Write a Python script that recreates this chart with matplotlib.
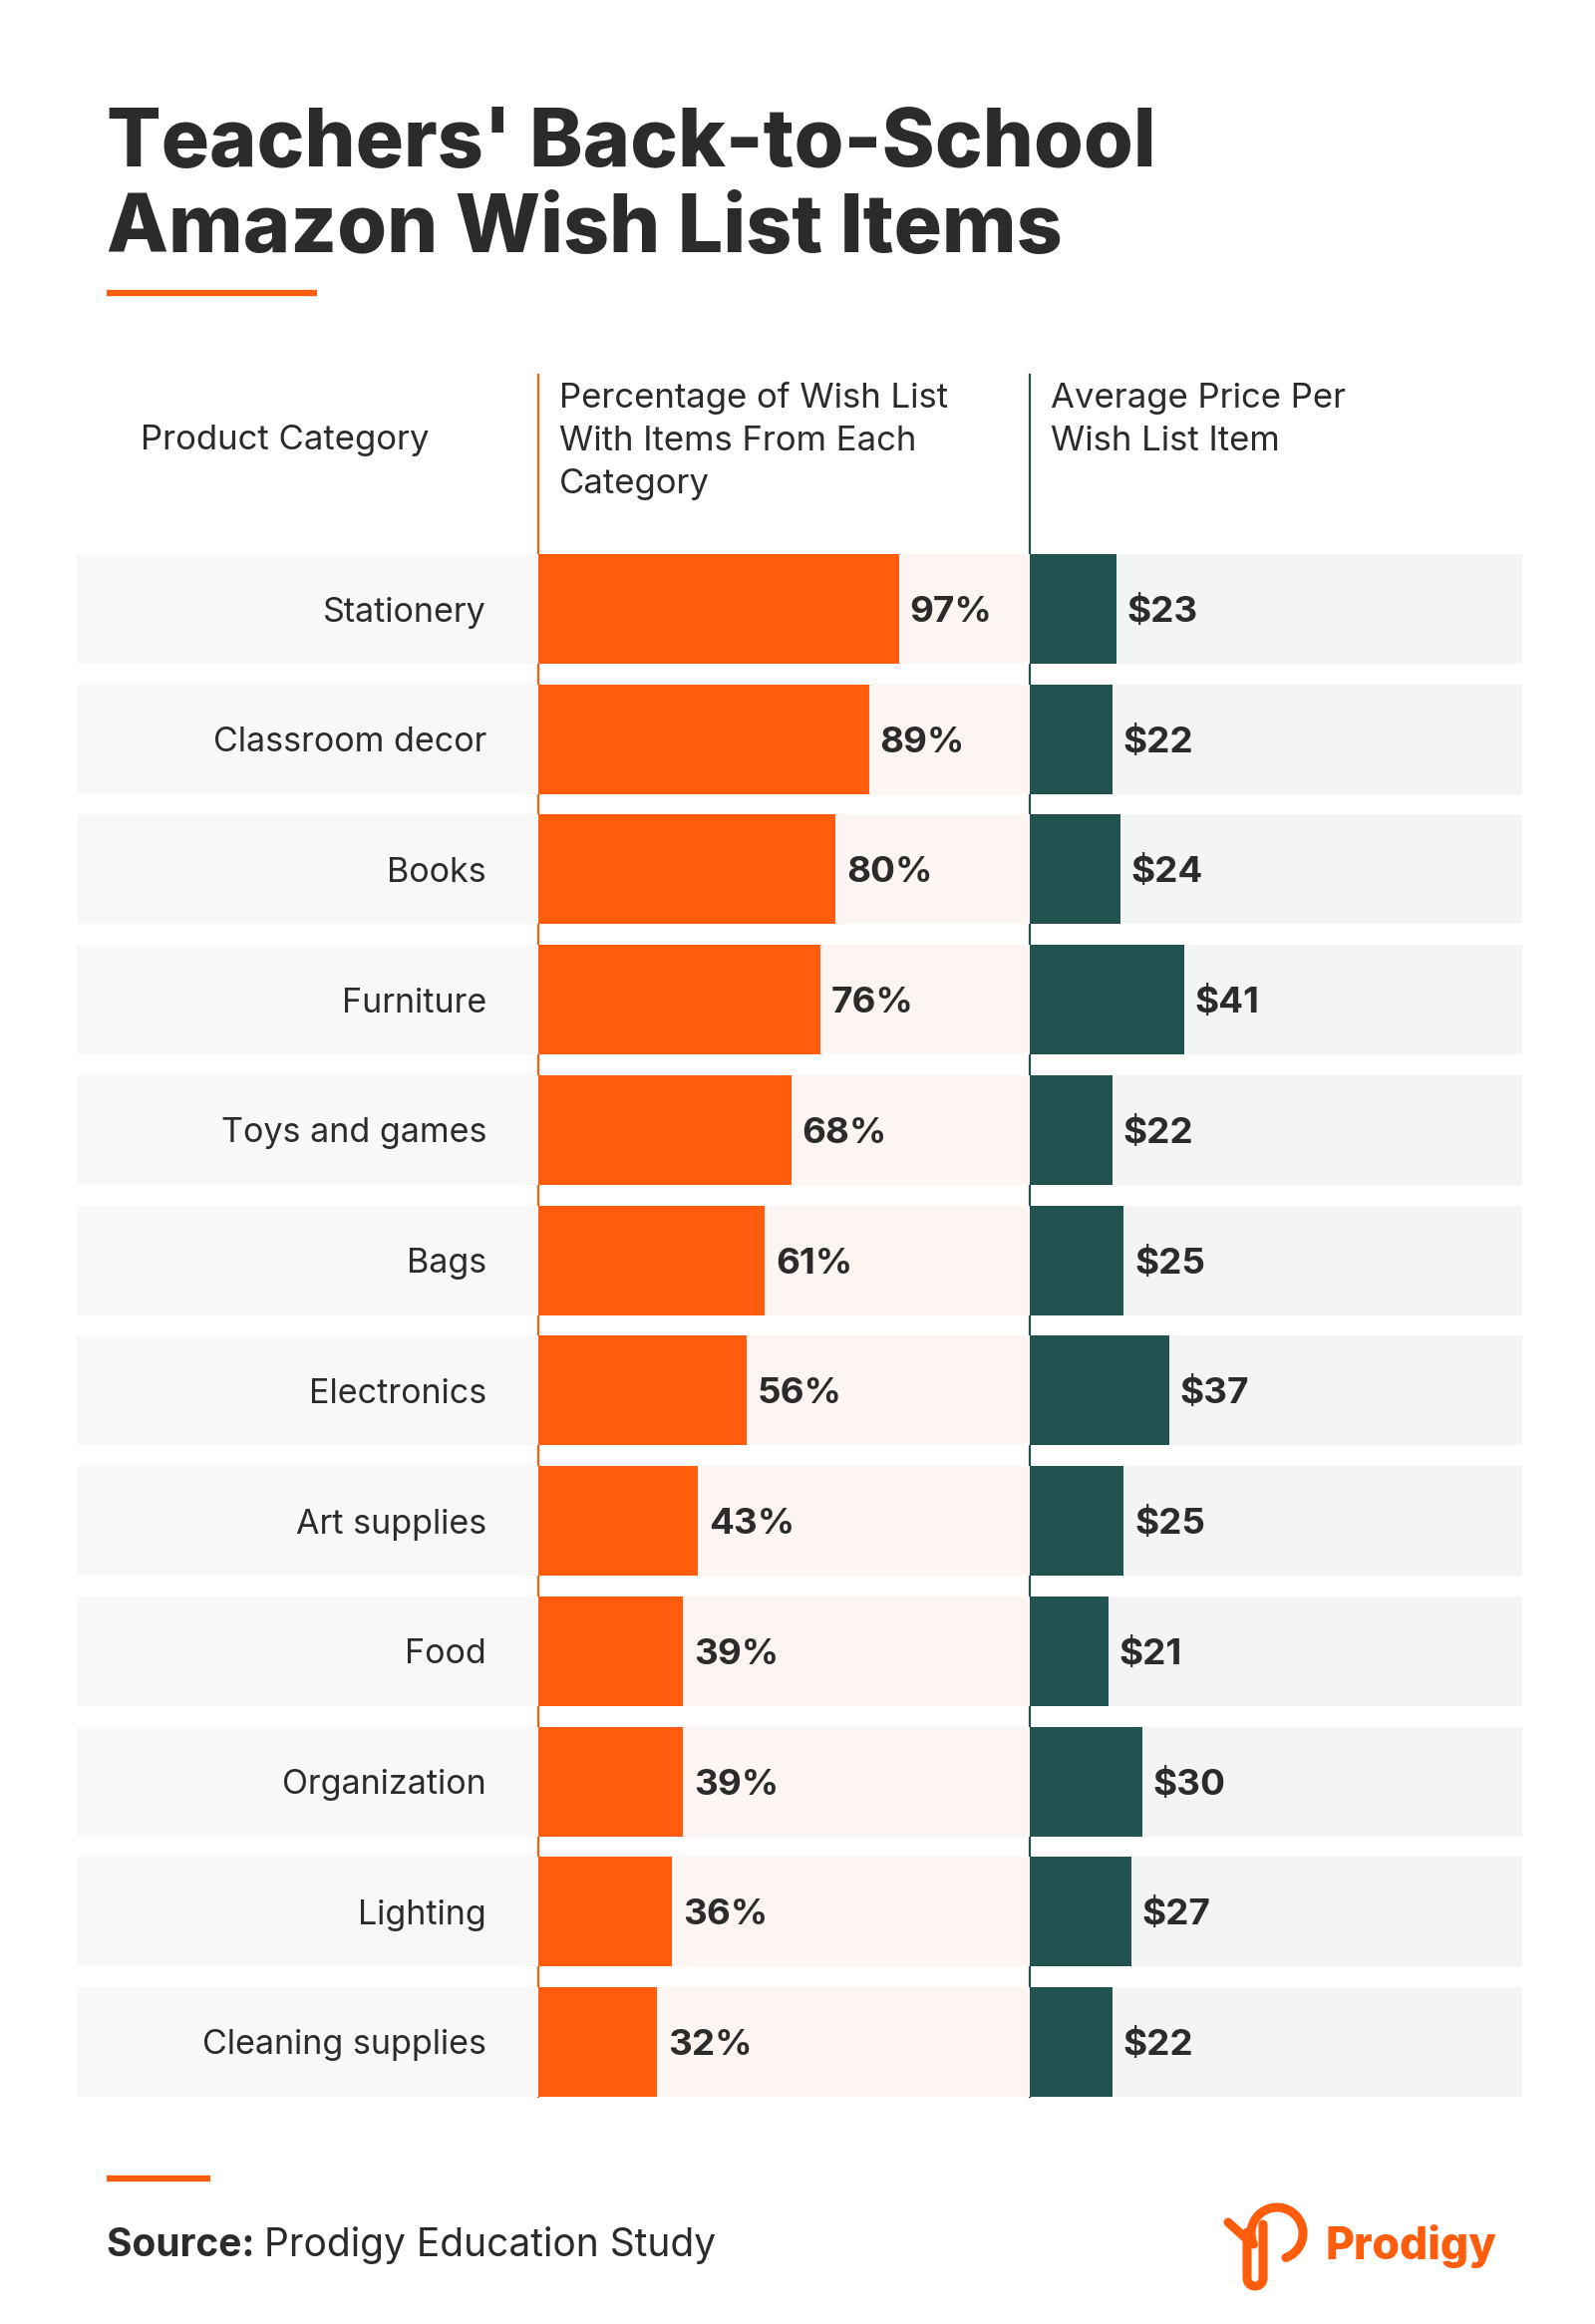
import numpy as np
import matplotlib
matplotlib.use("Agg")
import matplotlib.pyplot as plt

# ---------------- data ----------------
categories = ["Stationery", "Classroom decor", "Books", "Furniture", "Toys and games",
              "Bags", "Electronics", "Art supplies", "Food", "Organization",
              "Lighting", "Cleaning supplies"]
pct_values = [97, 89, 80, 76, 68, 61, 56, 43, 39, 39, 36, 32]
price_values = [23, 22, 24, 41, 22, 25, 37, 25, 21, 30, 27, 22]

title_lines = ["Teachers' Back-to-School", "Amazon Wish List Items"]
header_cat = "Product Category"
header_pct = ["Percentage of Wish List", "With Items From Each", "Category"]
header_price = ["Average Price Per", "Wish List Item"]
source_bold = "Source:"
source_text = "Prodigy Education Study"
brand = "Prodigy"

# ---------------- style ----------------
ORANGE = "#ff5c0b"
TEAL = "#235350"
DARK = "#2b2b2b"
BG_LEFT = "#f8f8f8"
BG_MID = "#fdf5f1"
BG_RIGHT = "#f3f4f4"
FONT = ["Inter", "DejaVu Sans"]
plt.rcParams["font.family"] = FONT

W, H = 1600, 2332
fig = plt.figure(figsize=(W / 100, H / 100), dpi=100)
fig.patch.set_facecolor("white")

canvas = fig.add_axes([0, 0, 1, 1])
canvas.set_xlim(0, W)
canvas.set_ylim(H, 0)
canvas.axis("off")
canvas.set_zorder(0)


def fig_rect(x0, y0, x1, y1):
    return [x0 / W, 1 - y1 / H, (x1 - x0) / W, (y1 - y0) / H]


# ---------------- title ----------------
canvas.text(107, 167, title_lines[0], fontsize=58, fontweight="heavy", color=DARK,
            ha="left", va="baseline")
canvas.text(107, 253, title_lines[1], fontsize=58, fontweight="heavy", color=DARK,
            ha="left", va="baseline")
canvas.plot([107, 318], [294, 294], color=ORANGE, lw=4.5, solid_capstyle="butt")

# ---------------- headers ----------------
HFS = 25
canvas.text(141, 439, header_cat, fontsize=HFS, color=DARK, ha="left", va="center_baseline")
for i, line in enumerate(header_pct):
    canvas.text(561, 396 + 43 * i, line, fontsize=HFS, color=DARK, ha="left",
                va="center_baseline")
for i, line in enumerate(header_price):
    canvas.text(1054, 396 + 43 * i, line, fontsize=HFS, color=DARK, ha="left",
                va="center_baseline")

# vertical separators
TOP_LINE, BOTTOM = 376, 2104
canvas.plot([540, 540], [TOP_LINE, BOTTOM], color=ORANGE, lw=1.6)
canvas.plot([1033, 1033], [TOP_LINE, BOTTOM], color=TEAL, lw=1.6)

# ---------------- rows ----------------
ROW_TOP = 556
n = len(categories)
pitch = 130.7
band = 110 / pitch
y = np.arange(n)
ylim = (n - 1 + band / 2, -band / 2)

ax_lab = fig.add_axes(fig_rect(77, ROW_TOP, 540, BOTTOM))
ax_pct = fig.add_axes(fig_rect(540, ROW_TOP, 1033, BOTTOM))
ax_prc = fig.add_axes(fig_rect(1033, ROW_TOP, 1527, BOTTOM))

for ax, bg in [(ax_lab, BG_LEFT), (ax_pct, BG_MID), (ax_prc, BG_RIGHT)]:
    ax.set_ylim(*ylim)
    ax.axis("off")
    ax.patch.set_alpha(0)
    for yi in y:
        ax.axhspan(yi - band / 2, yi + band / 2, color=bg, lw=0, zorder=0)

ax_lab.set_xlim(0, 463)
for yi, cat in zip(y, categories):
    ax_lab.text(411, yi, cat, fontsize=24.5, color=DARK, ha="right", va="center_baseline")

ax_pct.set_xlim(0, 132.2)
ax_pct.barh(y, pct_values, height=band, color=ORANGE, lw=0, zorder=2)
for yi, v in zip(y, pct_values):
    ax_pct.annotate(f"{v}%", (v, yi), xytext=(7.5, 0), textcoords="offset points",
                    fontsize=26.5, fontweight="bold", color=DARK, ha="left",
                    va="center_baseline")

ax_prc.set_xlim(0, 130.7)
ax_prc.barh(y, price_values, height=band, color=TEAL, lw=0, zorder=2)
for yi, v in zip(y, price_values):
    ax_prc.annotate(f"${v}", (v, yi), xytext=(7.5, 0), textcoords="offset points",
                    fontsize=26.5, fontweight="bold", color=DARK, ha="left",
                    va="center_baseline")

# ---------------- footer ----------------
canvas.plot([107, 211], [2186, 2186], color=ORANGE, lw=4.5, solid_capstyle="butt")
t1 = canvas.text(107, 2250, source_bold + " ", fontsize=28, fontweight="bold", color=DARK,
                 ha="left", va="center_baseline")
canvas.annotate(source_text, xy=(1, 0), xycoords=t1, fontsize=28, color=DARK,
                ha="left", va="bottom")

# logo mark
cx, cy, r = 1281, 2241, 26
t = np.radians(np.linspace(-70, 205, 120))
canvas.plot(cx + r * np.cos(t), cy - r * np.sin(t), color=ORANGE, lw=6.5,
            solid_capstyle="round")
tb = np.radians(np.linspace(180, 360, 30))
sx0, sx1, sy0, sy1 = 1251, 1267, 2232, 2286
ux = np.concatenate([[sx1, sx1], (sx0 + sx1) / 2 + (sx1 - sx0) / 2 * np.cos(tb[::-1]), [sx0, sx0]])
uy = np.concatenate([[sy0, sy1], sy1 - (sx1 - sx0) / 2 * np.sin(tb[::-1]), [sy1, 2240]])
canvas.plot(ux, uy, color=ORANGE, lw=6.5, solid_capstyle="round", solid_joinstyle="round")
canvas.plot([1232, 1252], [2230, 2248], color=ORANGE, lw=6.5, solid_capstyle="round")
canvas.text(1330, 2250, brand, fontsize=32, fontweight="heavy", color=ORANGE,
            ha="left", va="center_baseline")

fig.savefig("out.png", dpi=100, facecolor="white")
